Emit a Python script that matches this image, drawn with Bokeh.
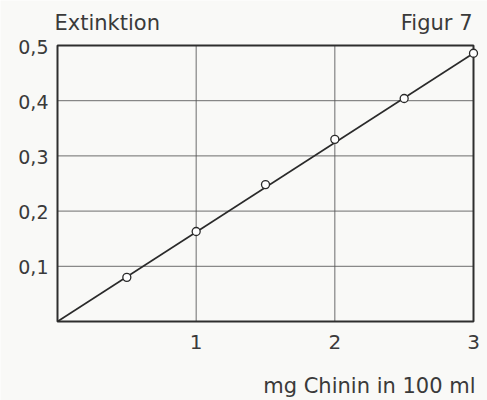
from bokeh.plotting import figure
from bokeh.models import Range1d
from bokeh.core.properties import value
from bokeh.embed import file_html
from bokeh.resources import INLINE

# Extinction vs. quinine concentration (calibration curve)
mg_chinin = [0.5, 1.0, 1.5, 2.0, 2.5, 3.0]
extinktion = [0.08, 0.163, 0.248, 0.33, 0.404, 0.486]

# calibration line through the origin
line_x = [0.0, 3.0]
line_y = [0.0, 0.486]

# limits of the chart box
x_limits = [0.0, 3.0]
y_limits = [0.0, 0.5]

x_ticks = [1, 2, 3]
x_tick_labels = ["1", "2", "3"]
y_ticks = [0.1, 0.2, 0.3, 0.4, 0.5]
y_tick_labels = ["0,1", "0,2", "0,3", "0,4", "0,5"]
x_grid = [1, 2]
y_grid = [0.1, 0.2, 0.3, 0.4]

FONT = "DejaVu Sans"
INK = "#3a3a3a"
PAPER = "#f9f9f7"

# pixel geometry of the box inside the 487x400 canvas; the plotting frame
# covers the whole canvas so labels and captions are placed with offsets
W, H = 487, 400
BOX_L, BOX_R, BOX_T, BOX_B = 57, 473, 45, 321

xs = (x_limits[1] - x_limits[0]) / (BOX_R - BOX_L)
ys = (y_limits[1] - y_limits[0]) / (BOX_B - BOX_T)
x_range = Range1d(x_limits[0] - BOX_L * xs, x_limits[1] + (W - BOX_R) * xs)
y_range = Range1d(y_limits[0] - (H - BOX_B) * ys, y_limits[1] + BOX_T * ys)

p = figure(width=W, height=H, output_backend="svg", toolbar_location=None,
           x_range=x_range, y_range=y_range, x_axis_location=None, y_axis_location=None,
           min_border=0)
p.background_fill_color = PAPER
p.border_fill_color = PAPER
p.outline_line_color = None
p.xgrid.visible = False
p.ygrid.visible = False

# grid lines inside the box
grid_style = dict(line_color="#555555", line_width=1, line_alpha=0.85)
p.segment(x0=x_grid, y0=y_limits[0], x1=x_grid, y1=y_limits[1], **grid_style)
p.segment(x0=x_limits[0], y0=y_grid, x1=x_limits[1], y1=y_grid, **grid_style)

# box outline
p.quad(left=[x_limits[0]], right=[x_limits[1]], bottom=[y_limits[0]], top=[y_limits[1]],
       fill_color=None, line_color="#2e2e2e", line_width=2)

p.line(line_x, line_y, line_color="#2a2a2a", line_width=1.6)
p.scatter(mg_chinin, extinktion, size=8, marker="circle",
          fill_color="white", line_color="#2a2a2a", line_width=1.3)

text_style = dict(text_font=value(FONT), text_color=INK)

# tick labels
p.text(x=x_ticks, y=[y_limits[0]] * len(x_ticks), text=x_tick_labels, y_offset=20,
       text_align="center", text_baseline="alphabetic", text_font_size="20px", **text_style)
p.text(x=[x_limits[0]] * len(y_ticks), y=y_ticks, text=y_tick_labels, x_offset=-9, y_offset=1,
       text_align="right", text_baseline="middle", text_font_size="19px", **text_style)

# headings above the box
p.text(x=[x_limits[0]], y=[y_limits[1]], text=["Extinktion"], y_offset=-23, x_offset=-3,
       text_align="left", text_baseline="alphabetic", text_font_size="21px", **text_style)
p.text(x=[x_limits[1]], y=[y_limits[1]], text=["Figur 7"], y_offset=-23, x_offset=-1,
       text_align="right", text_baseline="alphabetic", text_font_size="21px", **text_style)

# x-axis caption, right aligned under the tick labels
p.text(x=[x_limits[1]], y=[y_limits[0]], text=["mg Chinin in 100 ml"], y_offset=64,
       x_offset=2, text_align="right", text_baseline="alphabetic", text_font_size="21px",
       **text_style)

open("out.html", "w").write(file_html(p, INLINE))
